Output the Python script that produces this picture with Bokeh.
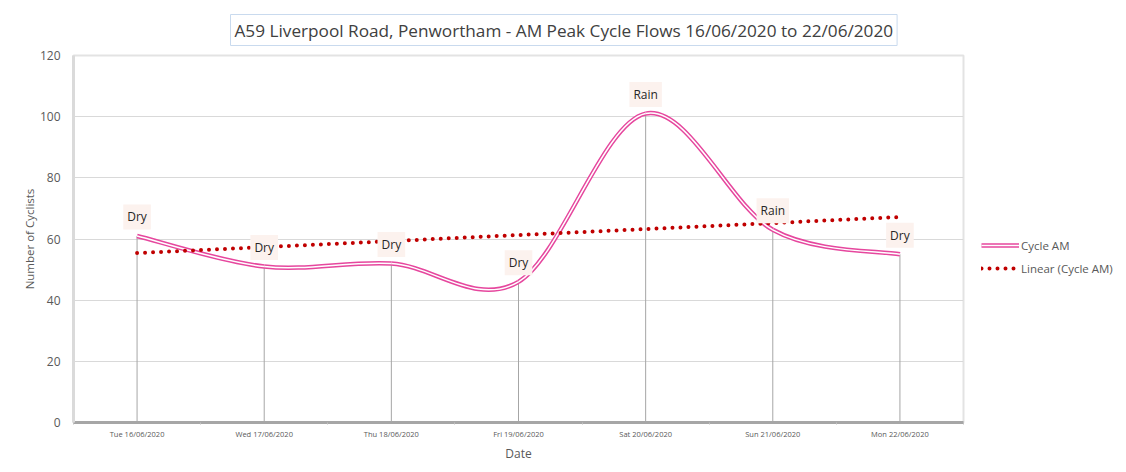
import numpy as np
from bokeh.plotting import figure
from bokeh.models import Range1d, FixedTicker, Legend, LegendItem, ColumnDataSource
from bokeh.embed import file_html
from bokeh.resources import INLINE
from bokeh.core.properties import value

# ---- data ----
dates = ["Tue 16/06/2020", "Wed 17/06/2020", "Thu 18/06/2020", "Fri 19/06/2020",
         "Sat 20/06/2020", "Sun 21/06/2020", "Mon 22/06/2020"]
cycle_am = [61, 51, 52, 46, 101, 63, 55]
weather = ["Dry", "Dry", "Dry", "Dry", "Rain", "Rain", "Dry"]
y_ticks = [0, 20, 40, 60, 80, 100, 120]
title_text = "A59 Liverpool Road, Penwortham - AM Peak Cycle Flows 16/06/2020 to 22/06/2020"

FONT = "Open Sans"
GREY = "#595959"
PINK = "#E6479E"
RED = "#C00000"

n = len(dates)
xs = np.arange(n, dtype=float)
ys = np.array(cycle_am, dtype=float)

p = figure(frame_width=890, frame_height=367,
           x_range=Range1d(-0.5, n - 0.5), y_range=Range1d(0, 120),
           output_backend="svg", toolbar_location=None,
           min_border_left=73, min_border_top=55, min_border_bottom=42, min_border_right=153)
p.background_fill_color = "white"
p.border_fill_color = "white"
p.outline_line_color = "#E3E3E3"
p.outline_line_width = 2

# title
p.title.text = title_text
p.title.align = "left"
p.title.offset = 157
p.title.text_font = FONT
p.title.text_font_size = "17.2px"
p.title.text_font_style = "normal"
p.title.text_color = "#404040"
p.title.border_line_color = "#C9DAEE"
p.title.border_line_width = 1
p.title.background_fill_color = "white"
p.title.padding = 4
p.title.standoff = 20

# grid
p.xgrid.grid_line_color = None
p.ygrid.ticker = FixedTicker(ticks=y_ticks)
p.ygrid.grid_line_color = "#D9D9D9"
p.ygrid.grid_line_width = 1

# axes
p.yaxis.ticker = FixedTicker(ticks=y_ticks)
p.yaxis.axis_line_color = "#DADADA"
p.yaxis.axis_line_width = 3
p.yaxis.major_tick_line_color = None
p.yaxis.minor_tick_line_color = None
p.yaxis.major_label_text_font = FONT
p.yaxis.major_label_text_font_size = "12px"
p.yaxis.major_label_text_color = GREY
p.yaxis.major_label_standoff = 7
p.yaxis.axis_label = "Number of Cyclists"
p.yaxis.axis_label_text_font = FONT
p.yaxis.axis_label_text_font_size = "11.5px"
p.yaxis.axis_label_text_font_style = "normal"
p.yaxis.axis_label_text_color = GREY
p.yaxis.axis_label_standoff = 0

p.xaxis.ticker = FixedTicker(ticks=list(xs), minor_ticks=list(np.arange(n + 1) - 0.5))
p.xaxis.major_label_overrides = {i: d for i, d in enumerate(dates)}
p.xaxis.axis_line_color = "#A6A6A6"
p.xaxis.axis_line_width = 3
p.xaxis.major_tick_line_color = None
p.xaxis.minor_tick_line_color = "#BFBFBF"
p.xaxis.minor_tick_in = 0
p.xaxis.minor_tick_out = 2
p.xaxis.major_label_text_font = FONT
p.xaxis.major_label_text_font_size = "7.5px"
p.xaxis.major_label_text_color = GREY
p.xaxis.major_label_standoff = 0
p.xaxis.axis_label = "Date"
p.xaxis.axis_label_text_font = FONT
p.xaxis.axis_label_text_font_size = "12px"
p.xaxis.axis_label_text_font_style = "normal"
p.xaxis.axis_label_text_color = GREY
p.xaxis.axis_label_standoff = 3

# drop lines
p.segment(x0=xs, y0=np.zeros(n), x1=xs, y1=ys, line_color="#A6A6A6", line_width=1)

# smoothed curve (Bezier segments through the data points)
P = np.concatenate([[ys[0]], ys, [ys[-1]]])
X = np.concatenate([[xs[0]], xs, [xs[-1]]])
x0 = xs[:-1]; y0 = ys[:-1]; x1 = xs[1:]; y1 = ys[1:]
cx0 = X[1:-2] + (X[2:-1] - X[0:-3]) / 6.0
cy0 = P[1:-2] + (P[2:-1] - P[0:-3]) / 6.0
cx1 = X[2:-1] - (X[3:] - X[1:-2]) / 6.0
cy1 = P[2:-1] - (P[3:] - P[1:-2]) / 6.0
bez = dict(x0=x0, y0=y0, x1=x1, y1=y1, cx0=cx0, cy0=cy0, cx1=cx1, cy1=cy1)
p.bezier(line_color=PINK, line_width=4.5, **bez)
p.bezier(line_color="white", line_width=1.5, **bez)

# linear trend
coef = np.polyfit(xs, ys, 1)
tx = np.array([xs[0], xs[-1]])
ty = np.polyval(coef, tx)
trend = p.line(tx, ty, line_color=RED, line_width=4, line_dash="0 8", line_cap="round")

# data labels
src = ColumnDataSource(dict(x=xs, y=ys, t=weather))
p.text(x="x", y="y", text="t", source=src, text_align="center", text_baseline="middle",
       y_offset=-19, text_font=value(FONT), text_font_size="12px", text_color="#262626",
       background_fill_color="#FCF2EE", padding=4)

# legend proxies (placed outside the visible range)
lg_out = p.line([-10, -9], [-10, -10], line_color=PINK, line_width=4.5)
lg_in = p.line([-10, -9], [-10, -10], line_color="white", line_width=1.5)
legend = Legend(items=[LegendItem(label="Cycle AM", renderers=[lg_out, lg_in]),
                       LegendItem(label="Linear (Cycle AM)", renderers=[trend])],
                location=(18, 146), glyph_width=38, glyph_height=16, label_height=16,
                spacing=7, padding=4, margin=0, label_standoff=2,
                label_text_font=FONT, label_text_font_size="11.5px", label_text_color=GREY,
                border_line_color=None, background_fill_alpha=0)
p.add_layout(legend, "right")

open("out.html", "w").write(file_html(p, INLINE))
